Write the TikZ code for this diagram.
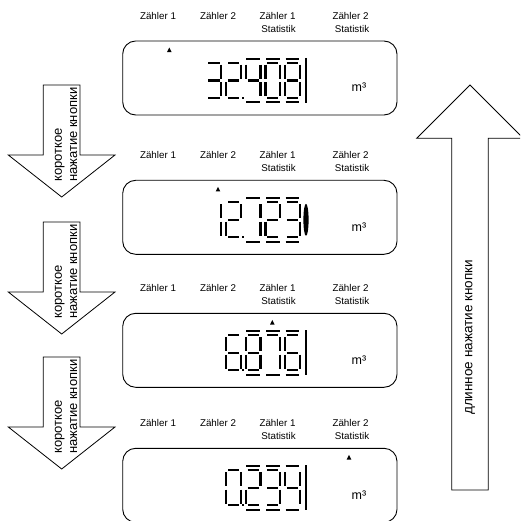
\documentclass[tikz,border=0pt]{standalone}
\usepackage{fontspec}
\setmainfont{Liberation Sans}
\newcommand\SGa[2]{\draw[seg] (#1+1.7,#2) -- (#1+12.8,#2);}
\newcommand\SGb[2]{\draw[seg] (#1+14.5,#2+1.7) -- (#1+14.5,#2+15.8);}
\newcommand\SGc[2]{\draw[seg] (#1+14.5,#2+19.2) -- (#1+14.5,#2+33.3);}
\newcommand\SGd[2]{\draw[seg] (#1+1.7,#2+35) -- (#1+12.8,#2+35);}
\newcommand\SGe[2]{\draw[seg] (#1,#2+19.2) -- (#1,#2+33.3);}
\newcommand\SGf[2]{\draw[seg] (#1,#2+1.7) -- (#1,#2+15.8);}
\newcommand\SGg[2]{\draw[seg] (#1+1.7,#2+17.5) -- (#1+12.8,#2+17.5);}
\newcommand\sevdig[3]{\foreach \s in {#3}{\csname SG\s\endcsname{#1}{#2}}}
\newcommand\ovl[2]{\draw[seg] (#1+0.5,#2-4.3) -- (#1+14,#2-4.3); \draw[seg] (#1+0.5,#2+39.3) -- (#1+14,#2+39.3);}
\newcommand\ptr[1]{\fill (#1-2.3,52.2) -- (#1+2.3,52.2) -- (#1,47.6) -- cycle;}
\newcommand\lcdpanel[3]{%
\begin{scope}[yshift=-#2pt]
 \node[lbl, anchor=base] (za#1) at (158,19.2) {Zähler 1};
 \node[lbl, anchor=base] (zb#1) at (218,19.2) {Zähler 2};
 \node[lbl, anchor=base] (zc#1) at (277.5,19.2) {Zähler 1};
 \node[lbl, anchor=base] (sc#1) at (278.5,32.6) {Statistik};
 \node[lbl, anchor=base] (zd#1) at (350.5,19.2) {Zähler 2};
 \node[lbl, anchor=base] (sd#1) at (352,32.6) {Statistik};
 \draw[lcdbox] (122.7,41) rectangle (397,115);
 \node[unit, anchor=base] (m#1) at (359,92) {m³};
 \fill (242.2,96.8) rectangle (244.4,99);
 \ovl{245.9}{63}\ovl{265.5}{63}\ovl{285.1}{63}
 #3
\end{scope}}
\begin{document}
\begin{tikzpicture}[x=1pt,y=-1pt,
  lcdbox/.style={draw, line width=0.9pt, rounded corners=13pt},
  seg/.style={line width=2.2pt, line cap=butt},
  lbl/.style={font=\fontsize{9.8}{11.5}\selectfont, inner sep=0pt},
  unit/.style={font=\fontsize{12.5}{14}\selectfont, inner sep=0pt},
  blockarrow/.style={draw, line width=0.8pt, fill=white, line join=miter},
  atext/.style={font=\fontsize{13}{15}\selectfont, inner sep=0pt, rotate=90},
  ltext/.style={font=\fontsize{13.5}{15}\selectfont, inner sep=0pt, rotate=90}]
\useasboundingbox (0,0) rectangle (520,521);
\clip (0,0) rectangle (520,521);
% displays
\lcdpanel{1}{0}{%
 \ptr{169.3}
 \sevdig{206.7}{63}{a,b,g,c,d}
 \sevdig{226.3}{63}{a,b,g,e,d}
 \sevdig{245.9}{63}{f,g,b,c}
 \sevdig{265.5}{63}{a,b,c,d,e,f}
 \sevdig{285.1}{63}{a,b,c,d,e,f,g}
 \draw[line width=1.7pt] (306,58) -- (306,103);}
\lcdpanel{2}{139.3}{%
 \ptr{218}
 \sevdig{206.7}{63}{b,c}
 \sevdig{226.3}{63}{a,b,g,e,d}
 \sevdig{245.9}{63}{b,c}
 \sevdig{265.5}{63}{a,b,g,e,d}
 \sevdig{285.1}{63}{a,b,g,c,d}
 \fill (306,80.5) ellipse [x radius=2.6pt, y radius=16pt];}
\lcdpanel{3}{272.3}{%
 \ptr{272.3}
 \sevdig{226.3}{63}{a,f,g,e,c,d}
 \sevdig{245.9}{63}{a,b,c,d,e,f,g}
 \sevdig{265.5}{63}{a,b,c}
 \sevdig{285.1}{63}{a,f,g,e,c,d}
 \draw[line width=1.7pt] (306,58) -- (306,103);}
\lcdpanel{4}{407.3}{%
 \ptr{349}
 \sevdig{226.3}{63}{a,b,c,d,e,f}
 \sevdig{245.9}{63}{a,b,g,e,d}
 \sevdig{265.5}{63}{a,b,g,c,d}
 \sevdig{285.1}{63}{f,g,b,c}
 \draw[line width=1.7pt] (306,58) -- (306,103);}
% short-press arrows
\foreach \T/\n in {85/1,222/2,357/3}{
 \draw[blockarrow] (43.3,\T) -- (80,\T) -- (80,\T+70) -- (115,\T+70) -- (61.7,\T+112) -- (8.3,\T+70) -- (43.3,\T+70) -- cycle;
 \node[atext, anchor=base west] (ka\n) at (61.8,\T+97) {короткое};
 \node[atext, anchor=base west] (kb\n) at (77,\T+97) {нажатие кнопки};
}
% long-press arrow
\draw[blockarrow] (451.7,490) -- (488.3,490) -- (488.3,138.3) -- (523.3,138.3) -- (470,85) -- (416.7,138.3) -- (451.7,138.3) -- cycle;
\node[ltext, anchor=west] (lt) at (470,415) {длинное нажатие кнопки};
\end{tikzpicture}
\end{document}
